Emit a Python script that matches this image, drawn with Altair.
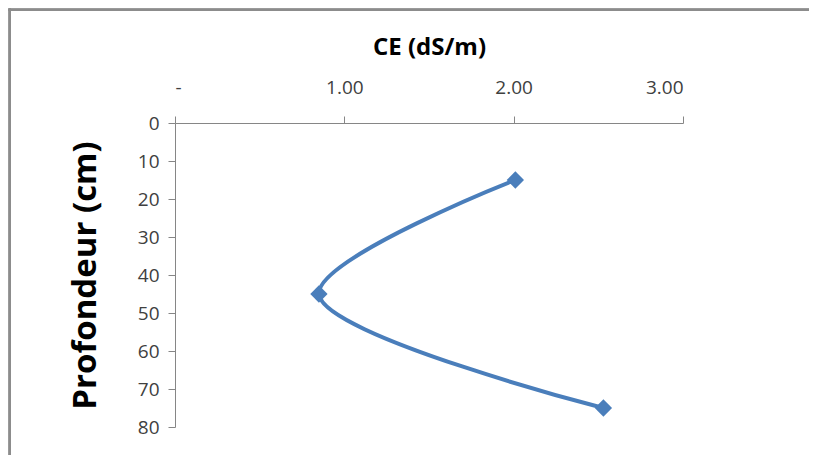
import altair as alt
import pandas as pd

ce = [2.01, 0.85, 2.53]
depth = [15, 45, 75]
order = [1, 2, 3]

x_ticks = [0, 1, 2, 3]
y_ticks = [0, 10, 20, 30, 40, 50, 60, 70, 80]

df = pd.DataFrame({"ce": ce, "depth": depth, "order": order})

FONT = "Open Sans"
BLUE = "#4A7EBB"
AXIS_GRAY = "#868686"
TEXT = "#404040"
FRAME = "#8C8C8C"

x_enc = alt.X(
    "ce:Q",
    scale=alt.Scale(domain=[0, 3], nice=False, zero=False),
    axis=alt.Axis(
        orient="top",
        values=x_ticks,
        labelExpr="datum.value == 0 ? '-' : format(datum.value, '.2f')",
        title="CE (dS/m)",
        titleFontSize=24,
        titleFontWeight="bold",
        titleColor="#000000",
        titlePadding=19,
        labelFontSize=19,
        labelColor=TEXT,
        labelPadding=19,
        tickSize=7,
        tickColor=AXIS_GRAY,
        domainColor=AXIS_GRAY,
        grid=False,
    ),
)
y_enc = alt.Y(
    "depth:Q",
    scale=alt.Scale(domain=[0, 80], reverse=True, nice=False),
    axis=alt.Axis(
        values=y_ticks,
        labelOverlap=False,
        title="Profondeur  (cm)",
        titleFontSize=33,
        titleFontWeight="bold",
        titleColor="#000000",
        titlePadding=35,
        labelFontSize=19,
        labelColor=TEXT,
        labelPadding=9,
        tickSize=7,
        tickColor=AXIS_GRAY,
        domainColor=AXIS_GRAY,
        grid=False,
    ),
)

line = alt.Chart(df).mark_line(
    interpolate="catmull-rom", color=BLUE, strokeWidth=4
).encode(x=x_enc, y=y_enc, order="order:Q")

pts = alt.Chart(df).mark_point(
    shape="diamond", filled=True, color=BLUE, size=300, opacity=1
).encode(x=x_enc, y=y_enc)

frame_top = alt.Chart(df).mark_rect(
    color=FRAME, strokeWidth=0, clip=False
).encode(
    x=alt.value(-166.5), x2=alt.value(634), y=alt.value(-114.5), y2=alt.value(-112)
)

frame_left = alt.Chart(df).mark_rect(
    color=FRAME, strokeWidth=0, clip=False
).encode(
    x=alt.value(-166.5), x2=alt.value(-164), y=alt.value(-114.5), y2=alt.value(338)
)

chart = (
    alt.layer(line, pts, frame_top, frame_left)
    .properties(
        width=508,
        height=304,
        autosize=alt.AutoSizeParams(type="none"),
        padding={"left": 167, "top": 115, "right": 128, "bottom": 28},
        background="white",
        view=alt.ViewBackground(stroke="transparent", strokeWidth=0),
    )
    .configure_view(stroke="transparent", strokeWidth=0)
    .configure(font=FONT)
)

chart.save("out.html", embed_options={"renderer": "svg", "actions": False})
